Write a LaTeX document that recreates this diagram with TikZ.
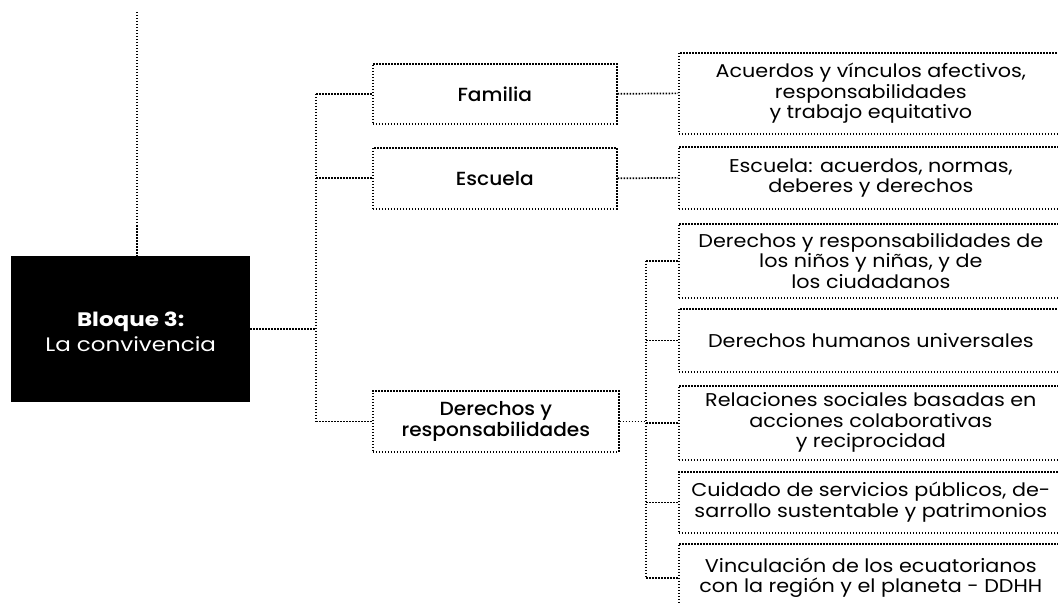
\documentclass[tikz,border=0pt]{standalone}
\usepackage{fontspec}
\setmainfont{Poppins}
\newfontfamily\leaffont{Poppins}[FakeStretch=1.12]
\newfontfamily\medfont{Poppins Medium}[FakeStretch=1.06]
\newfontfamily\rootfont{Poppins}[FakeStretch=1.18]
\begin{document}
\begin{tikzpicture}[x=1pt,y=-1pt,
  dot/.style={line width=1.7pt, dash pattern=on 1.5pt off 1.5pt},
  rootbox/.style={fill=black, minimum width=239pt, minimum height=146pt, inner sep=0pt, anchor=north west},
  roottext/.style={text=white, align=center, font=\rootfont\fontsize{19.5}{25}\selectfont},
  midbox/.style={draw, dot, minimum width=244pt, inner sep=0pt, anchor=north west, align=center, font=\medfont\fontsize{19}{21}\selectfont},
  leafbox/.style={draw, dot, minimum width=384pt, inner sep=0pt, anchor=north west, align=center, font=\leaffont\fontsize{18.5}{20.5}\selectfont}]
\clip (0,0) rectangle (1058,604);
\fill[white] (0,0) rectangle (1058,604);
% root
\node[rootbox] (root) at (11,256) {};
\node[roottext] (rootlabel) at ([yshift=-3pt]root.center) {\textbf{Bloque 3:}\\La convivencia};
\coordinate (top) at (137,12);
\coordinate (t1) at (316,0);
\coordinate (t2) at (646,0);
% middle
\node[midbox, minimum height=60pt] (fam) at (372,63) {Familia};
\node[midbox, minimum height=61pt] (esc) at (372,147) {Escuela};
\node[midbox, minimum height=61pt, minimum width=246pt] (der) at (372,390) {Derechos y\\responsabilidades};
% leaves
\node[leafbox, minimum height=81pt] (la) at (678,52) {Acuerdos y vínculos afectivos,\\responsabilidades\\y trabajo equitativo};
\node[leafbox, minimum height=62pt] (lb) at (678,146) {Escuela: acuerdos, normas,\\deberes y derechos};
\node[leafbox, minimum height=74pt] (lc) at (678,223) {Derechos y responsabilidades de\\los niños y niñas, y de\\los ciudadanos};
\node[leafbox, minimum height=63pt] (ld) at (678,308) {Derechos humanos universales};
\node[leafbox, minimum height=74pt] (le) at (678,385) {Relaciones sociales basadas en\\acciones colaborativas\\y reciprocidad};
\node[leafbox, minimum height=61pt] (lf) at (678,471) {Cuidado de servicios públicos, de-\\sarrollo sustentable y patrimonios};
\node[leafbox, minimum height=68pt] (lg) at (678,543) {Vinculación de los ecuatorianos\\con la región y el planeta - DDHH};
% connectors
\draw[dot] (top) -- (top |- root.north);
\draw[dot] (root.east) -- (root.east -| t1);
\draw[dot] (fam.west -| t1) -- (der.west -| t1);
\draw[dot] (fam.west -| t1) -- (fam.west);
\draw[dot] (esc.west -| t1) -- (esc.west);
\draw[dot] (der.west -| t1) -- (der.west);
\draw[dot] (fam.east) -- (la.west);
\draw[dot] (esc.east) -- (lb.west);
\draw[dot] (der.east) -- (der.east -| t2);
\draw[dot] (lc.west -| t2) -- (lg.west -| t2);
\draw[dot] (lc.west -| t2) -- (lc.west);
\draw[dot] (ld.west -| t2) -- (ld.west);
\draw[dot] (le.west -| t2) -- (le.west);
\draw[dot] (lf.west -| t2) -- (lf.west);
\draw[dot] (lg.west -| t2) -- (lg.west);
\end{tikzpicture}
\end{document}
